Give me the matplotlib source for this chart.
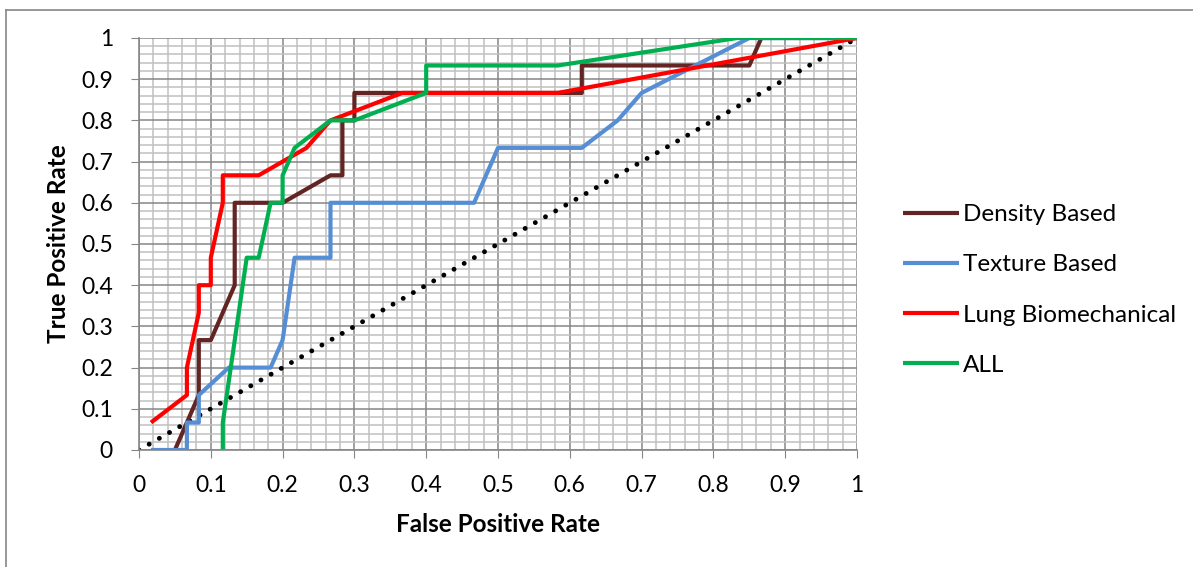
import matplotlib
matplotlib.use("Agg")
from matplotlib import pyplot as plt
from matplotlib.lines import Line2D
from matplotlib.ticker import MultipleLocator

plt.rcParams["font.family"] = ["Lato", "DejaVu Sans"]

density_fpr = [0.05, 0.0667, 0.0833, 0.0833, 0.1, 0.1333, 0.1333, 0.2, 0.2667, 0.2833, 0.2833, 0.3, 0.3, 0.6167, 0.6167, 0.85, 0.8667, 1.0]
density_tpr = [0, 0.0667, 0.1333, 0.2667, 0.2667, 0.4, 0.6, 0.6, 0.6667, 0.6667, 0.8, 0.8, 0.8667, 0.8667, 0.9333, 0.9333, 1.0, 1.0]

texture_fpr = [0.0167, 0.0667, 0.0667, 0.0833, 0.0833, 0.125, 0.1833, 0.2, 0.2167, 0.2667, 0.2667, 0.4667, 0.5, 0.6167, 0.6667, 0.7, 0.85, 1.0]
texture_tpr = [0, 0, 0.0667, 0.0667, 0.1333, 0.2, 0.2, 0.2667, 0.4667, 0.4667, 0.6, 0.6, 0.7333, 0.7333, 0.8, 0.8667, 1.0, 1.0]

lung_fpr = [0.0167, 0.0667, 0.0667, 0.0833, 0.0833, 0.1, 0.1, 0.1167, 0.1167, 0.1667, 0.2333, 0.2667, 0.3667, 0.5833, 1.0]
lung_tpr = [0.0667, 0.1333, 0.2, 0.3333, 0.4, 0.4, 0.4667, 0.6, 0.6667, 0.6667, 0.7333, 0.8, 0.8667, 0.8667, 1.0]

all_fpr = [0.1167, 0.1167, 0.15, 0.1667, 0.1833, 0.2, 0.2, 0.2167, 0.2667, 0.3, 0.4, 0.4, 0.5833, 0.8333, 1.0]
all_tpr = [0, 0.0667, 0.4667, 0.4667, 0.6, 0.6, 0.6667, 0.7333, 0.8, 0.8, 0.8667, 0.9333, 0.9333, 1.0, 1.0]

chance = [0, 1]

fig = plt.figure(figsize=(11.93, 5.67), dpi=100)
ax = fig.add_axes([139 / 1193, 1 - 450 / 567, 718 / 1193, 412 / 567])

# border around the chart area (runs off the right and bottom edges)
fig.add_artist(Line2D([6 / 1193, 6 / 1193], [0, 1 - 9.5 / 567], color="#868686", lw=1.2))
fig.add_artist(Line2D([6 / 1193, 1], [1 - 9.5 / 567, 1 - 9.5 / 567], color="#868686", lw=1.2))

ax.xaxis.set_major_locator(MultipleLocator(0.1))
ax.yaxis.set_major_locator(MultipleLocator(0.1))
ax.xaxis.set_minor_locator(MultipleLocator(0.02))
ax.yaxis.set_minor_locator(MultipleLocator(0.02))
ax.grid(which="minor", color="#c0c0c0", lw=1.1)
ax.grid(which="major", color="#868686", lw=1.1)
ax.set_axisbelow(True)

kw = dict(lw=3.0, solid_joinstyle="round", solid_capstyle="butt")
ax.plot(chance, chance, color="black", lw=3.5, linestyle=(0, (0.01, 2.4)), dash_capstyle="round")
ax.plot(density_fpr, density_tpr, color="#632523", label="Density Based", **kw)
ax.plot(texture_fpr, texture_tpr, color="#558ED5", label="Texture Based", **kw)
ax.plot(lung_fpr, lung_tpr, color="#FF0000", label="Lung Biomechanical", **kw)
ax.plot(all_fpr, all_tpr, color="#00B050", label="ALL", **kw)

ax.set_xlim(0, 1)
ax.set_ylim(0, 1)
ax.xaxis.set_major_formatter(lambda v, p: f"{v:g}")
ax.yaxis.set_major_formatter(lambda v, p: f"{v:g}")
ax.tick_params(which="major", direction="out", length=5.8, color="#868686", labelsize=16.5)
ax.tick_params(axis="x", pad=12)
ax.tick_params(axis="y", pad=13)
ax.tick_params(which="minor", length=0)
for s in ["top", "right"]:
    ax.spines[s].set_visible(False)
for s in ["left", "bottom"]:
    ax.spines[s].set_color("#868686")
    ax.spines[s].set_linewidth(1.2)

ax.set_xlabel("False Positive Rate", fontsize=17.5, fontweight="bold")
ax.set_ylabel("True Positive Rate", fontsize=17.5, fontweight="bold")
ax.xaxis.label.set_va("center")
ax.yaxis.label.set_va("center")
ax.xaxis.set_label_coords(0.5, (450 - 524) / 412)
ax.yaxis.set_label_coords((59 - 139) / 718, 0.5)

ax.legend(loc="center left", bbox_to_anchor=(903 / 1193, 1 - 290 / 567), bbox_transform=fig.transFigure,
          frameon=False, fontsize=17.5, handlelength=2.3, handletextpad=0.15, labelspacing=1.2,
          borderpad=0, borderaxespad=0)

plt.savefig("out.png", dpi=100)
